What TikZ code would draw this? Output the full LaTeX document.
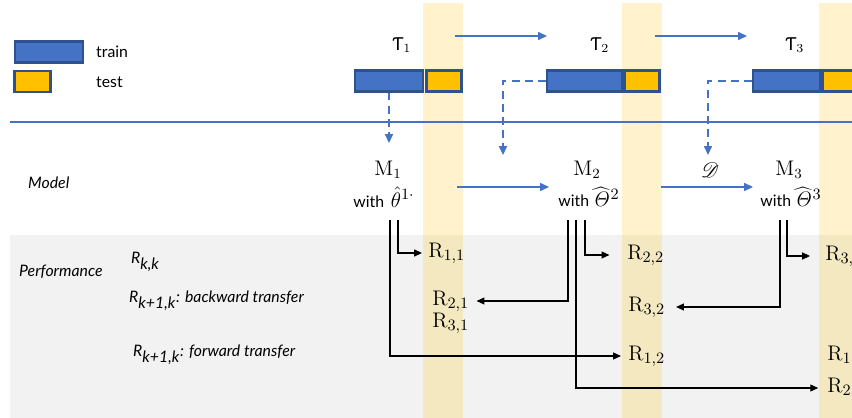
\documentclass[tikz,border=0pt]{standalone}
\usepackage[no-math]{fontspec}
\setmainfont{Lato}
\newfontfamily\hookfont{DejaVu Sans}
\usepackage{mathrsfs}
\usetikzlibrary{arrows.meta}

\definecolor{barblue}{HTML}{4472C4}
\definecolor{bardark}{HTML}{2F528F}
\definecolor{testgold}{HTML}{FFC000}
\definecolor{panel}{HTML}{F2F2F2}

\newcommand\bigmath[1]{{\fontsize{12.5}{14}\selectfont$#1$}}

\begin{document}
\begin{tikzpicture}[x=0.02cm,y={(0cm,-0.02cm)},
    font=\fontsize{9}{11}\selectfont,
    trainbar/.style={draw=bardark,fill=barblue,line width=1.2pt,minimum height=0.42cm,inner sep=0pt},
    testbar/.style={draw=bardark,fill=testgold,line width=1.2pt,minimum height=0.42cm,minimum width=0.7cm,inner sep=0pt},
    flow/.style={draw=barblue,line width=0.7pt,-{Triangle[length=5pt,width=4.5pt]}},
    feed/.style={draw=barblue,line width=0.9pt,dash pattern=on 4.5pt off 3pt,-{Triangle[length=5pt,width=4.5pt]}},
    perf/.style={draw=black,line width=0.6pt,-{Triangle[length=4.5pt,width=4pt]}}]

        \useasboundingbox (0,0) rectangle (852,418);
        \clip (0,0) rectangle (852,418);

        % background: panel, test stripes, separator
        \fill[panel] (10,235) rectangle (852,418);
        \foreach \x in {423,622,819}
          \fill[testgold,opacity=0.2] (\x,3) rectangle (\x+40,418);
        \draw[barblue,line width=1pt] (10,122) -- (852,122);

        % legend
        \node[trainbar,minimum width=1.36cm] (ltrain) at (49,52) {};
        \node[testbar,minimum width=0.72cm] (ltest) at (32.5,81.5) {};
        \node[anchor=west] (ltraintext) at (90,52) {train};
        \node[anchor=west] (ltesttext) at (90,82) {test};

        % tasks
        \begin{scope}[every node/.style={font=\hookfont\fontsize{10}{12}\selectfont}]
          \node (tau1) at (402,45) {Ƭ$_1$};
          \node (tau2) at (600,45) {Ƭ$_2$};
          \node (tau3) at (795,45) {Ƭ$_3$};
        \end{scope}

        \node[trainbar,minimum width=1.36cm] (b1) at (389,81) {};
        \node[testbar] (c1) at (444,81) {};
        \node[trainbar,minimum width=1.5cm] (b2) at (584.5,81) {};
        \node[testbar] (c2) at (642,81) {};
        \node[trainbar,minimum width=1.34cm] (b3) at (786.5,81) {};
        \node[testbar] (c3) at (840,81) {};

        \coordinate (a1) at (455,36);
        \coordinate (a2) at (547,36);
        \coordinate (a3) at (655,36);
        \coordinate (a4) at (747,36);
        \draw[flow] (a1) -- (a2);
        \draw[flow] (a3) -- (a4);

        \coordinate (d1) at (389,143);
        \coordinate (d2) at (503,155);
        \coordinate (d3) at (708,155);
        \draw[feed] (b1) -- (d1);
        \draw[feed] (b2) -| (d2);
        \draw[feed] (b3) -| (d3);

        % models
        \node[anchor=west] (model) at (22,183) {\itshape Model};
        \begin{scope}[every node/.style={font=\fontsize{12}{14}\selectfont}]
          \node (m1) at (388,170) {$\mathrm{M}_1$};
          \node (m2) at (587,170) {$\mathrm{M}_2$};
          \node (m3) at (789,170) {$\mathrm{M}_3$};
        \end{scope}
        \node (w1) at (384,197) {with\, \bigmath{\hat{\theta}^{1\cdot}}};
        \node (w2) at (589,197) {with\bigmath{\,\widehat{\mathit{\Theta}}^{2}}};
        \node (w3) at (791,197) {with\bigmath{\,\widehat{\mathit{\Theta}}^{3}}};

        \coordinate (e1) at (457,187);
        \coordinate (e2) at (549,187);
        \coordinate (e3) at (661,187);
        \coordinate (e4) at (753,187);
        \draw[flow] (e1) -- (e2);
        \draw[flow] (e3) -- (e4);
        \node (dist) at (710,170) {\bigmath{\mathscr{D}}};

        % performance
        \node[anchor=west] (perftext) at (13,272) {\itshape Performance};
        \node[anchor=west] (kk) at (125,262) {\textit{R}$_{\textit{k,k}}$};
        \node[anchor=west] (bwt) at (123,301) {\textit{R}$_{\textit{k+1,k}}$\textit{: backward transfer}};
        \node[anchor=west] (fwt) at (127,355) {\textit{R}$_{\textit{k+1,k}}$\textit{: forward transfer}};

        \begin{scope}[every node/.style={anchor=west,inner sep=0pt,font=\fontsize{12.5}{14}\selectfont}]
          \node (r11) at (428,253) {$\mathrm{R}_{1,1}$};
          \node (r21) at (432,301) {$\mathrm{R}_{2,1}$};
          \node (r31) at (432,323) {$\mathrm{R}_{3,1}$};
          \node (r22) at (627,255) {$\mathrm{R}_{2,2}$};
          \node (r32) at (628,307) {$\mathrm{R}_{3,2}$};
          \node (r12) at (628,356) {$\mathrm{R}_{1,2}$};
          \node (r33) at (825,256) {$\mathrm{R}_{3,3}$};
          \node (r13) at (827,356) {$\mathrm{R}_{1,3}$};
          \node (r23) at (827,388) {$\mathrm{R}_{2,3}$};
        \end{scope}

        \coordinate (s1a) at (398,220);
        \coordinate (s1b) at (390,220);
        \coordinate (s2a) at (585,220);
        \coordinate (s2b) at (568,220);
        \coordinate (s2c) at (576,220);
        \coordinate (s3a) at (787,220);
        \coordinate (s3b) at (780,220);

        \draw[perf,shorten >=3.4pt] (s1a) |- (r11);
        \draw[perf,shorten >=4pt] (s1b) |- (r12);
        \draw[perf,shorten >=10pt] (s2a) |- (r22);
        \draw[perf,shorten >=4pt] (s2b) |- (r21);
        \draw[perf,shorten >=5pt] (s2c) |- (r23);
        \draw[perf,shorten >=8.5pt] (s3a) |- (r33);
        \draw[perf,shorten >=6pt] (s3b) |- (r32);

      \end{tikzpicture}
\end{document}
